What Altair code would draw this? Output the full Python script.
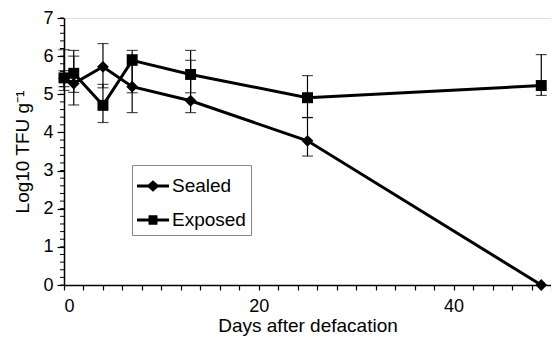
import altair as alt
import pandas as pd

days = [0, 1, 4, 7, 13, 25, 49]
sealed = [5.42, 5.28, 5.72, 5.20, 4.83, 3.78, 0.0]
sealed_lo = [5.20, 4.72, 5.17, 4.52, 4.52, 3.38, None]
sealed_hi = [5.62, 6.00, 6.33, 6.04, 5.89, 4.39, None]
exposed = [5.43, 5.55, 4.71, 5.89, 5.52, 4.91, 5.23]
exposed_lo = [5.10, 5.05, 4.26, 5.04, 5.04, 4.39, 4.97]
exposed_hi = [6.17, 6.15, 5.26, 6.15, 6.15, 5.49, 6.04]
series_names = ["Sealed", "Exposed"]

x_ticks = list(range(0, 51, 2))
y_major = list(range(0, 8))
y_minor = [round(i * 0.2, 1) for i in range(0, 36)]

rows = []
for name, vals, lo, hi in [("Sealed", sealed, sealed_lo, sealed_hi),
                           ("Exposed", exposed, exposed_lo, exposed_hi)]:
    for d, v, l, h in zip(days, vals, lo, hi):
        rows.append({"day": d, "value": v, "lo": l, "hi": h, "series": name})
df = pd.DataFrame(rows)

FONT = "Liberation Sans"

xscale = alt.Scale(domain=[0, 50], nice=False, zero=False)
yscale = alt.Scale(domain=[0, 7], nice=False)

xaxis = alt.Axis(
    values=x_ticks, title="Days after defacation", grid=False,
    labelExpr="datum.value % 20 === 0 ? datum.label : ''",
    labelOverlap=False, labelFontSize=18, titleFontSize=19,
    labelFont=FONT, titleFont=FONT, labelColor="black", titleColor="black",
    titleFontWeight="normal", domainColor="black", tickColor="black",
    domainWidth=1.5, tickWidth=1.2, tickSize=5, labelPadding=7, titlePadding=1,
)
yaxis = alt.Axis(
    values=y_major, title="Log10 TFU g⁻¹", grid=False, format="d",
    labelOverlap=False, labelFontSize=18, titleFontSize=19,
    labelFont=FONT, titleFont=FONT, labelColor="black", titleColor="black",
    titleFontWeight="normal", domainColor="black", tickColor="black",
    domainWidth=1.5, tickWidth=1.2, tickSize=7,
    labelPadding=4, titlePadding=10,
)

X = alt.X("day:Q", scale=xscale, axis=xaxis)

base = alt.Chart(df)

lines = base.mark_line(color="black", strokeWidth=3).encode(
    x=X,
    y=alt.Y("value:Q", scale=yscale, axis=yaxis),
    detail="series:N",
)

minor = alt.Chart(pd.DataFrame({"v": y_minor})).mark_rule(color="black", strokeWidth=1).encode(
    y=alt.Y("v:Q", scale=yscale, axis=yaxis), x=alt.value(-4), x2=alt.value(0))

err = base.transform_filter("isValid(datum.lo)")
err_rule = err.mark_rule(color="black", strokeWidth=1.2).encode(
    x=X, y=alt.Y("lo:Q", scale=yscale, axis=yaxis), y2="hi:Q")
err_lo = err.mark_tick(color="black", thickness=1.2, size=11, orient="horizontal").encode(
    x=X, y=alt.Y("lo:Q", scale=yscale, axis=yaxis))
err_hi = err.mark_tick(color="black", thickness=1.2, size=11, orient="horizontal").encode(
    x=X, y=alt.Y("hi:Q", scale=yscale, axis=yaxis))

pts_sealed = base.transform_filter("datum.series === 'Sealed'").mark_point(
    shape="diamond", filled=True, color="black", size=140, opacity=1).encode(
    x=X, y=alt.Y("value:Q", scale=yscale, axis=yaxis))
pts_exposed = base.transform_filter("datum.series === 'Exposed'").mark_point(
    shape="square", filled=True, color="black", size=120, opacity=1).encode(
    x=X, y=alt.Y("value:Q", scale=yscale, axis=yaxis))

bar = "M-1,-0.09L1,-0.09L1,0.09L-1,0.09Z"
path_sealed = bar + "M0,-0.36L0.4,0L0,0.36L-0.4,0Z"
path_exposed = bar + "M-0.28,-0.3L0.28,-0.3L0.28,0.3L-0.28,0.3Z"

legend_layer = alt.Chart(pd.DataFrame({"series": series_names})).transform_filter(
    "false").mark_point(filled=True, color="black", opacity=1).encode(
    x=alt.value(0), y=alt.value(0),
    shape=alt.Shape("series:N",
                    scale=alt.Scale(domain=series_names, range=[path_sealed, path_exposed]),
                    legend=alt.Legend(
                        title=None, orient="none", legendX=68, legendY=147,
                        strokeColor="#888888", padding=5, rowPadding=8,
                        symbolSize=1024, symbolStrokeWidth=0,
                        symbolFillColor="black",
                        labelFont=FONT, labelFontSize=19, labelColor="black",
                        labelOffset=3, symbolOpacity=1,
                    )),
)

chart = alt.layer(lines, minor, err_rule, err_lo, err_hi, pts_sealed, pts_exposed, legend_layer).properties(
    width=487, height=267,
    autosize="none",
    padding={"left": 56, "top": 10, "right": 0, "bottom": 51},
).configure_view(stroke=None).configure(background="white")

chart.save("out.html", embed_options={"renderer": "svg", "actions": False})
